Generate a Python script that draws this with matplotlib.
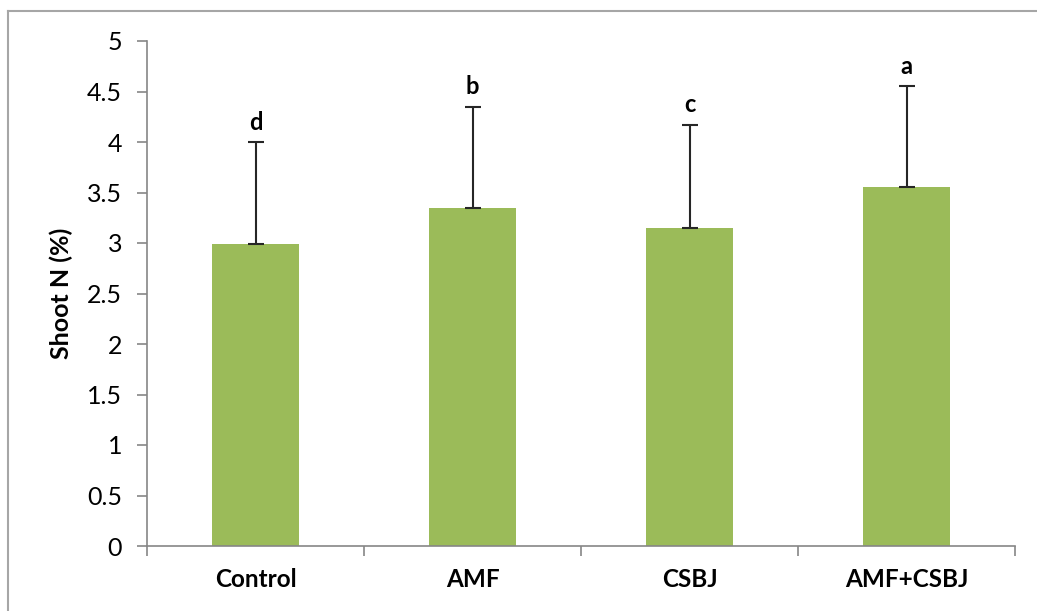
import matplotlib.pyplot as plt
import numpy as np
from matplotlib.lines import Line2D

# data
treatments = ['Control', 'AMF', 'CSBJ', 'AMF+CSBJ']
shoot_n = [2.99, 3.35, 3.15, 3.55]
shoot_n_err = [1.01, 1.00, 1.02, 1.00]
letters = ['d', 'b', 'c', 'a']

plt.rcParams['font.family'] = ['Lato', 'DejaVu Sans']

W, H = 1037, 611
fig = plt.figure(figsize=(W / 100, H / 100), dpi=100)
ax = fig.add_axes([147 / W, (H - 546) / H, (1015 - 147) / W, (546 - 41) / H])

x = np.arange(len(treatments))
ax.bar(x, shoot_n, width=0.405, color='#9BBB59', zorder=2)
ax.errorbar(x, shoot_n, yerr=[np.zeros(len(x)), shoot_n_err], fmt='none',
            ecolor='#262626', elinewidth=1.5, capsize=5.5, capthick=1.5, zorder=3)

for xi, v, e, lab in zip(x, shoot_n, shoot_n_err, letters):
    ax.annotate(lab, (xi, v + e), xytext=(0, 6), textcoords='offset points',
                ha='center', va='bottom', fontsize=17, fontweight='bold', color='black')

ax.set_xlim(-0.5, 3.5)
ax.set_ylim(0, 5)
ax.set_yticks(np.arange(0, 5.01, 0.5))
ax.set_yticklabels(['0', '0.5', '1', '1.5', '2', '2.5', '3', '3.5', '4', '4.5', '5'])
ax.set_xticks(x)
ax.set_xticklabels(treatments, fontsize=17.5, fontweight='bold')
ax.set_xticks(np.arange(-0.5, 3.6, 1), minor=True)
ax.tick_params(axis='x', which='major', length=0, pad=16)
ax.tick_params(axis='x', which='minor', length=7, width=1.2, color='#868686', direction='out')
ax.tick_params(axis='y', length=7, width=1.2, color='#868686', direction='out',
               labelsize=18, pad=11)

for side in ['top', 'right']:
    ax.spines[side].set_visible(False)
for side in ['left', 'bottom']:
    ax.spines[side].set_color('#868686')
    ax.spines[side].set_linewidth(1.2)

ax.set_ylabel('Shoot N (%)', fontsize=18, fontweight='bold', labelpad=10)

# chart border (top and left edges visible in the reference)
fig.add_artist(Line2D([7.5 / W, 7.5 / W], [0, 1 - 11 / H], transform=fig.transFigure,
                      color='#A6A6A6', linewidth=1.5))
fig.add_artist(Line2D([7.5 / W, 1], [1 - 11 / H, 1 - 11 / H], transform=fig.transFigure,
                      color='#A6A6A6', linewidth=1.5))

fig.savefig('out.png', dpi=100)
